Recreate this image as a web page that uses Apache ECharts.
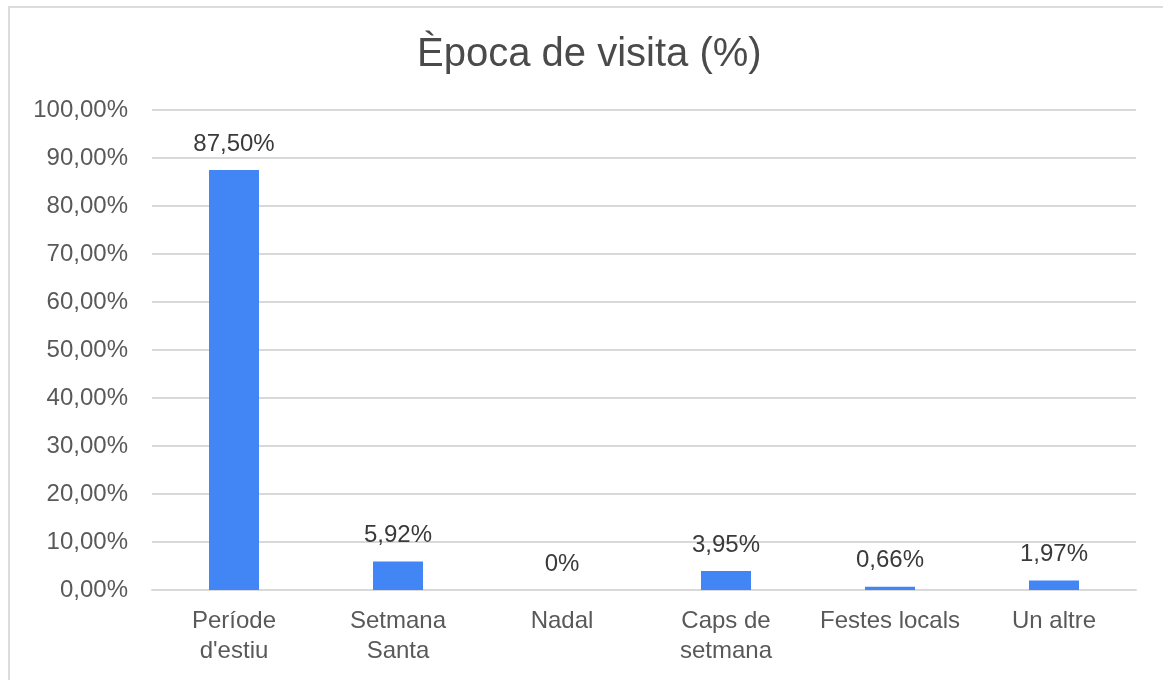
<!DOCTYPE html>
<html>
<head>
<meta charset="utf-8">
<script src="https://cdn.jsdelivr.net/npm/echarts@6/dist/echarts.min.js"></script>
<style>
  html, body { margin: 0; padding: 0; background: #fff; }
  #frame { position: absolute; left: 8px; top: 6px; width: 1170px; height: 700px; border: 2px solid #dcdcdc; box-sizing: border-box; }
  #chart { position: absolute; left: 0; top: 0; width: 1163px; height: 680px; }
</style>
</head>
<body>
<div id="frame"></div>
<div id="chart"></div>
<script>
var categories = ["Període\nd'estiu", "Setmana\nSanta", "Nadal", "Caps de\nsetmana", "Festes locals", "Un altre"];
var values = [87.5, 5.92, 0, 3.95, 0.66, 1.97];
var valueLabels = ["87,50%", "5,92%", "0%", "3,95%", "0,66%", "1,97%"];

var myChart = echarts.init(document.getElementById('chart'));
var option = {
    title: {
        text: 'Època de visita (%)',
        left: 412,
        top: 30,
        textStyle: { fontFamily: 'Liberation Sans', fontSize: 40, fontWeight: 'normal', color: '#4a4a4a' }
    },
    grid: { left: 152, right: 27, top: 110, bottom: 90 },
    xAxis: {
        type: 'category',
        data: categories,
        axisLine: { show: true, lineStyle: { color: '#d9d9d9', width: 2 } },
        axisTick: { show: false },
        axisLabel: { fontFamily: 'Liberation Sans', fontSize: 24, color: '#595959', lineHeight: 30, margin: 16, interval: 0 }
    },
    yAxis: {
        type: 'value',
        min: 0,
        max: 100,
        interval: 10,
        axisLine: { show: false },
        axisTick: { show: false },
        splitLine: { lineStyle: { color: '#d9d9d9', width: 2 } },
        axisLabel: {
            fontFamily: 'Liberation Sans', fontSize: 24, color: '#595959', margin: 24,
            formatter: function (v) { return v.toFixed(2).replace('.', ',') + '%'; }
        }
    },
    series: [{
        type: 'bar',
        data: values,
        barWidth: 50,
        itemStyle: { color: '#4285f4' },
        label: {
            show: true,
            position: 'top',
            distance: 14,
            fontFamily: 'Liberation Sans', fontSize: 24, color: '#3a3a3a',
            formatter: function (p) { return valueLabels[p.dataIndex]; }
        }
    }]
};
myChart.setOption(option);
</script>
</body>
</html>
